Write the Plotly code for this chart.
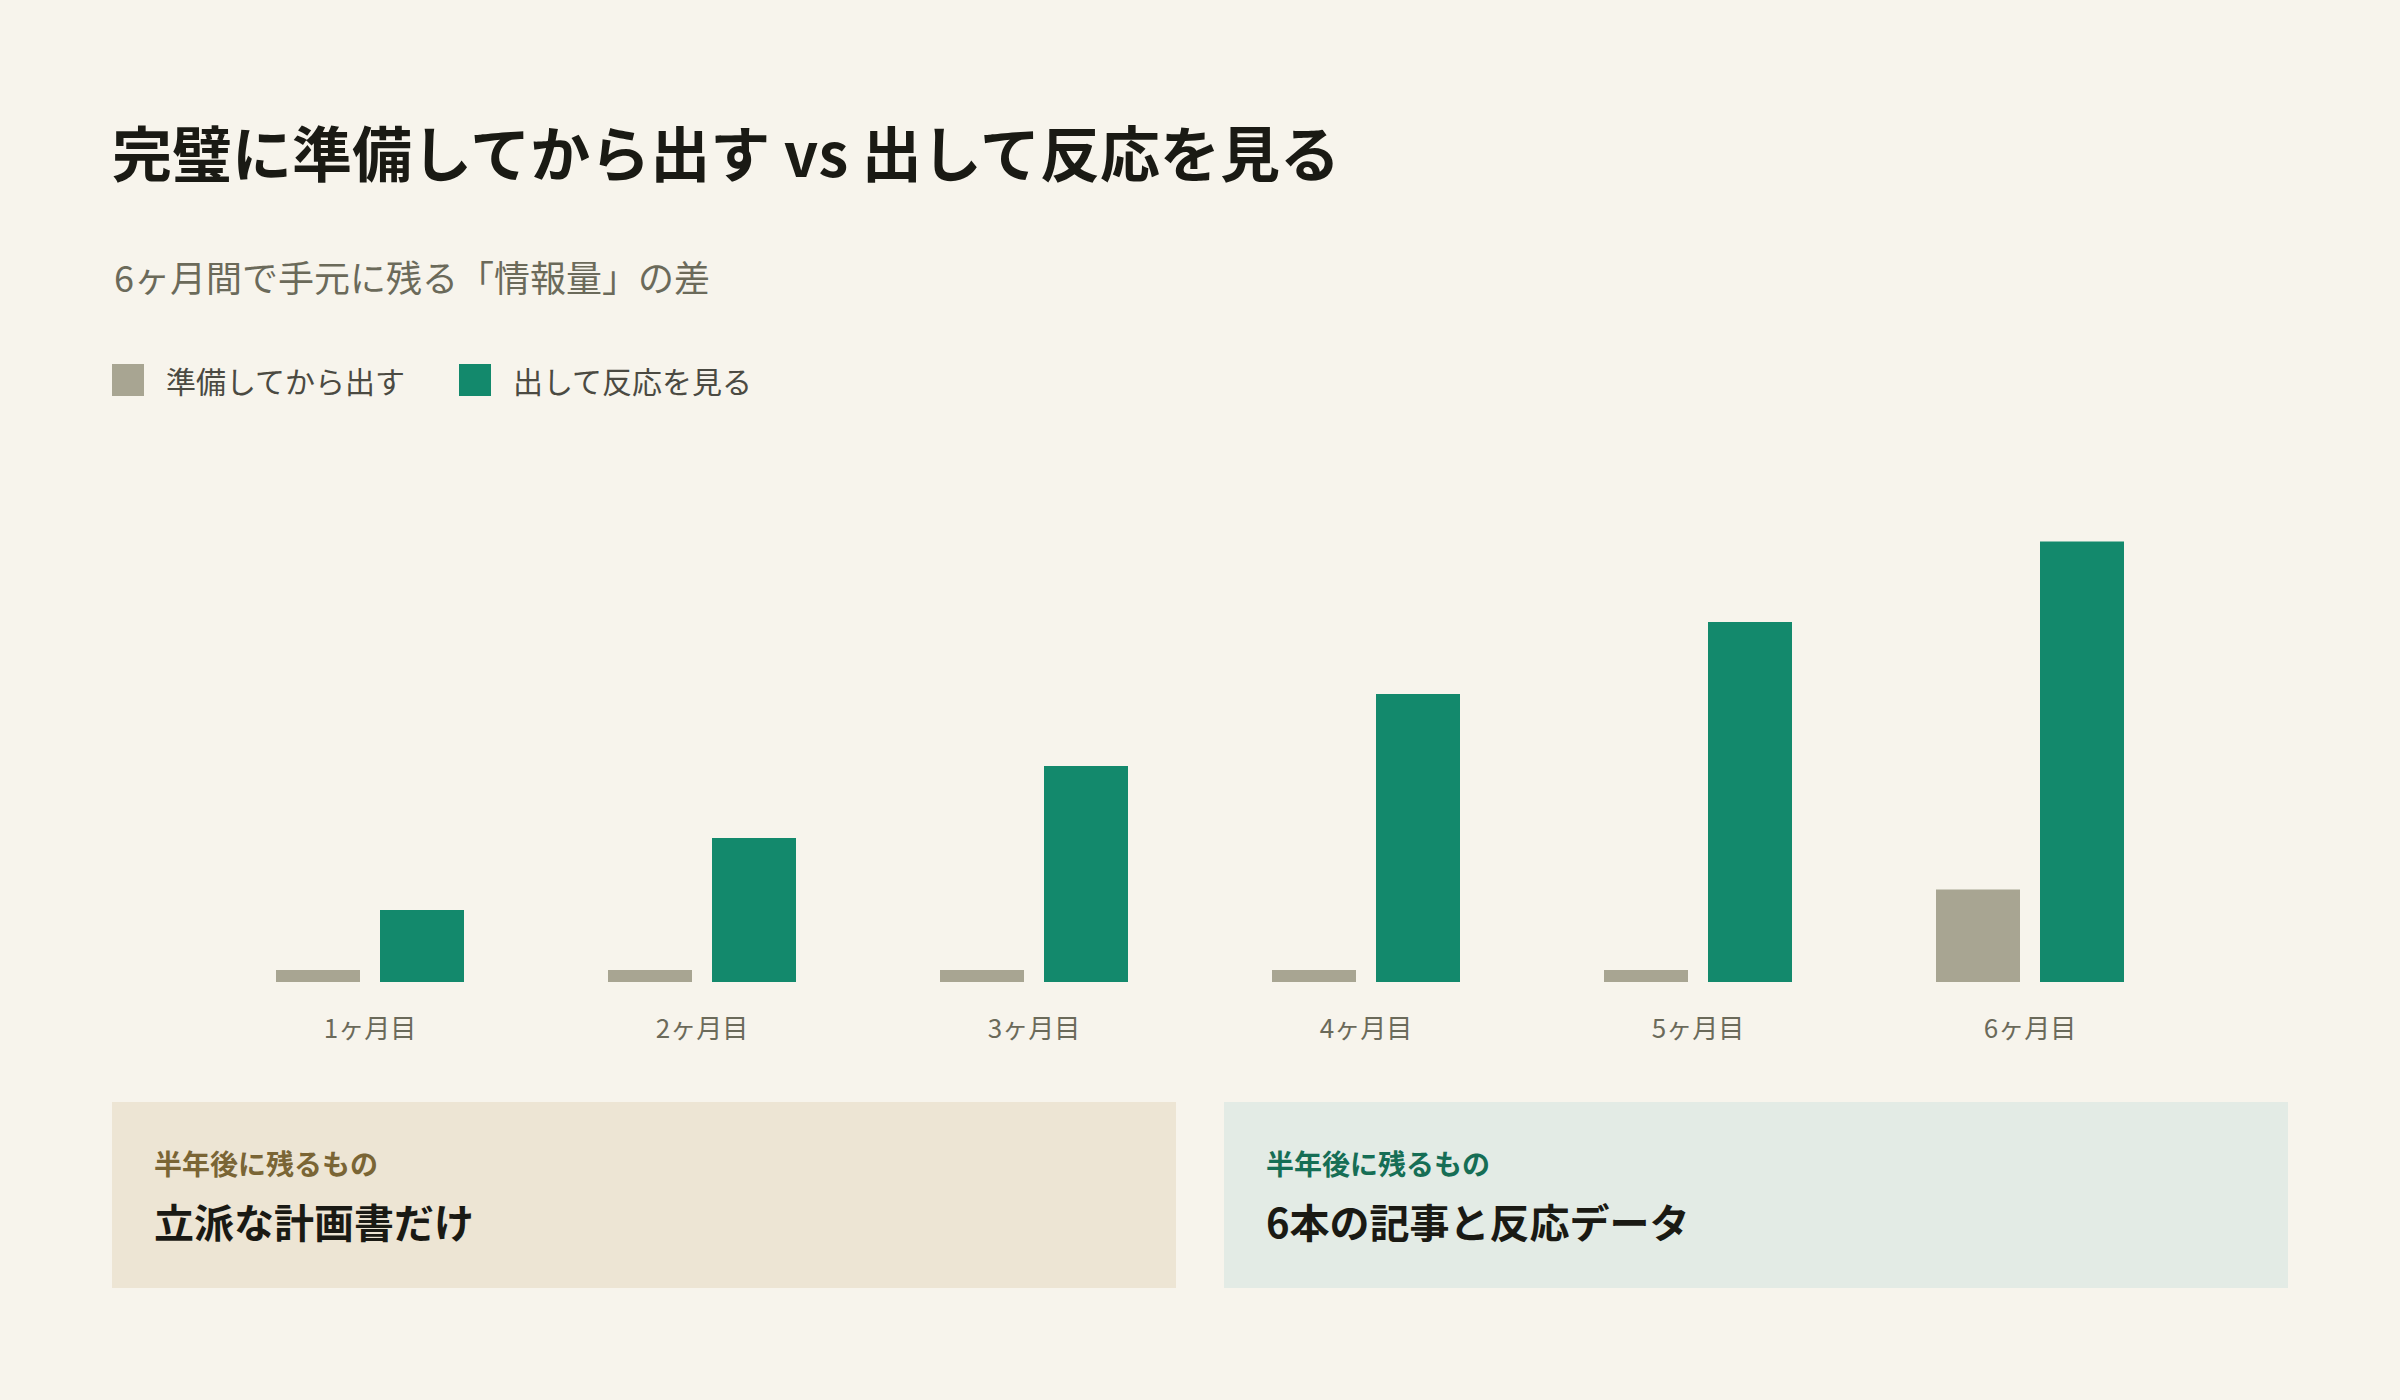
import plotly.graph_objects as go

# データ
months = ["1ヶ月目", "2ヶ月目", "3ヶ月目", "4ヶ月目", "5ヶ月目", "6ヶ月目"]
prepare_first = [1, 1, 1, 1, 1, 7.7]
ship_and_learn = [6, 12, 18, 24, 30, 36.7]
series_names = ["準備してから出す", "出して反応を見る"]
series_colors = ["#a8a592", "#13896c"]

title_text = "完璧に準備してから出す vs 出して反応を見る"
subtitle_text = "6ヶ月間で手元に残る「情報量」の差"
card_label = "半年後に残るもの"
card_left_text = "立派な計画書だけ"
card_right_text = "6本の記事と反応データ"

W, H = 2400, 1400
BG = "#f7f4ec"
FONT = "Noto Sans CJK JP"

# プロット領域（ピクセル）
PL, PR, PT, PB = 204, 2196, 502, 982


def px(x):
    return (x - PL) / (PR - PL)


def py(y):
    return (PB - y) / (PB - PT)


fig = go.Figure()
fig.add_trace(go.Bar(x=months, y=prepare_first, name=series_names[0],
                     marker=dict(color=series_colors[0], line=dict(width=0)),
                     hoverinfo="skip"))
fig.add_trace(go.Bar(x=months, y=ship_and_learn, name=series_names[1],
                     marker=dict(color=series_colors[1], line=dict(width=0)),
                     hoverinfo="skip"))

shapes = []
annotations = []

# 凡例（四角＋テキスト）
legend_x = [112, 459]
for i, name in enumerate(series_names):
    x0 = legend_x[i]
    shapes.append(dict(type="rect", xref="paper", yref="paper",
                       x0=px(x0), x1=px(x0 + 32), y0=py(396), y1=py(364),
                       fillcolor=series_colors[i], line=dict(width=0)))
    annotations.append(dict(text=name, xref="paper", yref="paper",
                            x=px(x0 + 52), y=py(380), xanchor="left", yanchor="middle",
                            showarrow=False,
                            font=dict(family=FONT, size=30, color="#4b4a42")))

# サブタイトル
annotations.append(dict(text=subtitle_text, xref="paper", yref="paper",
                        x=px(112), y=py(276), xanchor="left", yanchor="middle",
                        showarrow=False,
                        font=dict(family=FONT, size=36, color="#6b6a5a")))

# 下部のカード
cards = [
    dict(x0=112, x1=1176, fill="#ede5d4", label_color="#7a6535", text=card_left_text),
    dict(x0=1224, x1=2288, fill="#e3ebe5", label_color="#166e55", text=card_right_text),
]
for c in cards:
    shapes.append(dict(type="rect", xref="paper", yref="paper",
                       x0=px(c["x0"]), x1=px(c["x1"]), y0=py(1288), y1=py(1102),
                       fillcolor=c["fill"], line=dict(width=0), layer="below"))
    annotations.append(dict(text=card_label, xref="paper", yref="paper",
                            x=px(c["x0"] + 40), y=py(1163), xanchor="left", yanchor="middle",
                            showarrow=False,
                            font=dict(family=FONT, size=28, color=c["label_color"], weight=700)))
    annotations.append(dict(text=c["text"], xref="paper", yref="paper",
                            x=px(c["x0"] + 40), y=py(1221), xanchor="left", yanchor="middle",
                            showarrow=False,
                            font=dict(family=FONT, size=40, color="#1a1a14", weight=700)))

fig.update_layout(
    width=W, height=H,
    paper_bgcolor=BG, plot_bgcolor=BG,
    margin=dict(l=PL, r=W - PR, t=PT, b=H - PB, pad=0),
    title=dict(text=title_text, x=112 / W, xanchor="left", xref="container",
               y=1 - 156 / H, yanchor="middle", yref="container",
               font=dict(family=FONT, size=60, color="#1a1a14", weight=700)),
    barmode="group", bargap=0.3735, bargroupgap=0.1923,
    showlegend=False,
    xaxis=dict(showgrid=False, zeroline=False, showline=False, ticks="",
               ticklabelstandoff=29,
               tickfont=dict(family=FONT, size=26, color="#6b6a5a"),
               fixedrange=True),
    yaxis=dict(visible=False, range=[0, 40], fixedrange=True),
    shapes=shapes,
    annotations=annotations,
)

fig.write_html("out.html", config={"displayModeBar": False},
               post_script="document.body.style.margin='0';")
